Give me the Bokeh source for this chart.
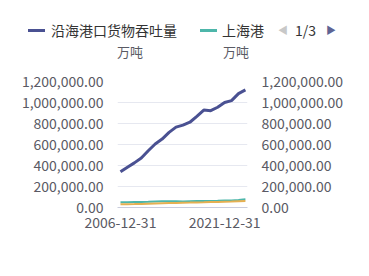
from bokeh.plotting import figure
from bokeh.layouts import column
from bokeh.models import LinearAxis, Range1d, NumeralTickFormatter, FixedTicker, Div
from bokeh.embed import file_html
from bokeh.resources import INLINE

dates = ["2006-12-31", "2007-12-31", "2008-12-31", "2009-12-31", "2010-12-31",
         "2011-12-31", "2012-12-31", "2013-12-31", "2014-12-31", "2015-12-31",
         "2016-12-31", "2017-12-31", "2018-12-31", "2019-12-31", "2020-12-31",
         "2021-12-31", "2022-12-31", "2023-12-31", "2024-12-31"]
coastal = [340000, 384000, 425000, 471000, 540000, 605000, 652000, 715000, 765000,
           784000, 812000, 868000, 928000, 922000, 955000, 1000000, 1018000, 1084000, 1120000]
shanghai = [49000, 50500, 51500, 52000, 54000, 57000, 58500, 60000, 59000,
            58000, 59500, 61000, 62000, 62500, 63500, 66000, 66500, 72000, 78000]
third = [30000, 31500, 32500, 34000, 36500, 39000, 40500, 42000, 43500,
         45000, 46500, 48500, 50000, 52000, 53500, 55500, 57000, 60000, 63000]
tick_labels = ["2006-12-31", "2021-12-31"]
series_names = ["沿海港口货物吞吐量", "上海港"]
series_colors = ["#4A5192", "#4DB6AA", "#E5B052"]
unit = "万吨"
page_text = "1/3"

x = [int(d[:4]) for d in dates]
tick_x = [int(t[:4]) for t in tick_labels]

FONT = "Noto Sans CJK SC"
W, H = 369, 276
TOP_H = 62
FL, FR, FT, FB = 117, 247, 81, 207
LABEL_COLOR = "#5A5A64"

# ---------- header (legend + axis names) ----------
def abs_span(left, top, inner, style=""):
    return (f'<span style="position:absolute;left:{left}px;top:{top}px;'
            f'white-space:nowrap;{style}">{inner}</span>')


parts = []
parts.append(abs_span(28, 29, "", f"width:17px;height:2.5px;background:{series_colors[0]};"))
parts.append(abs_span(200, 29, "", f"width:17px;height:2.5px;background:{series_colors[1]};"))
txt_style = "font-size:14px;line-height:20px;color:#333333;"
parts.append(abs_span(51, 20, series_names[0], txt_style))
parts.append(abs_span(222, 20, series_names[1], txt_style))
parts.append(abs_span(278, 21, "◀", "font-size:10px;line-height:18px;color:#C8C8C8;"))
parts.append(abs_span(295, 20, page_text, txt_style))
parts.append(abs_span(326, 21, "▶", "font-size:10px;line-height:18px;color:#5E6494;"))
unit_style = f"font-size:13px;line-height:18px;color:{LABEL_COLOR};"
parts.append(abs_span(117, 43, unit, unit_style))
parts.append(abs_span(223, 43, unit, unit_style))

html = (f'<div style="position:relative;width:{W}px;height:{TOP_H}px;'
        f'font-family:\'{FONT}\';margin:0;padding:0;">' + "".join(parts) + "</div>")
hdr = Div(text=html, width=W, height=TOP_H, margin=(0, 0, 0, 0))

# ---------- main chart ----------
p = figure(width=W, height=H - TOP_H, output_backend="svg", toolbar_location=None,
           x_range=Range1d(2005.57, 2024.3), y_range=Range1d(0, 1200000),
           min_border_left=FL, min_border_right=W - FR, min_border_top=FT - TOP_H,
           min_border_bottom=H - FB, outline_line_color=None,
           background_fill_color="white", border_fill_color="white",
           margin=(0, 0, 0, 0))

p.extra_y_ranges = {"r": Range1d(0, 1200000)}

p.line(x, shanghai, line_color=series_colors[1], line_width=2)
p.line(x, third, line_color=series_colors[2], line_width=2)
p.line(x, coastal, line_color=series_colors[0], line_width=3)

yt = [0, 200000, 400000, 600000, 800000, 1000000, 1200000]
p.xgrid.visible = False
p.ygrid.grid_line_color = "#E6E8F0"
p.ygrid.ticker = FixedTicker(ticks=yt)

for ax in p.yaxis:
    ax.ticker = FixedTicker(ticks=yt)
    ax.formatter = NumeralTickFormatter(format="0,0.00")
    ax.axis_line_color = None
    ax.major_tick_line_color = None
    ax.minor_tick_line_color = None
    ax.major_label_standoff = 8
    ax.major_label_text_font = FONT
    ax.major_label_text_font_size = "14px"
    ax.major_label_text_color = LABEL_COLOR

rax = LinearAxis(y_range_name="r", ticker=FixedTicker(ticks=yt),
                 formatter=NumeralTickFormatter(format="0,0.00"),
                 axis_line_color=None, major_tick_line_color=None, minor_tick_line_color=None,
                 major_label_standoff=8, major_label_text_font=FONT,
                 major_label_text_font_size="14px", major_label_text_color=LABEL_COLOR)
p.add_layout(rax, "right")

xa = p.xaxis[0]
xa.ticker = FixedTicker(ticks=tick_x)
xa.major_label_overrides = {tx: tl for tx, tl in zip(tick_x, tick_labels)}
xa.axis_line_color = "#C9CCDC"
xa.major_tick_line_color = None
xa.minor_tick_line_color = None
xa.major_label_standoff = 3
xa.major_label_text_font = FONT
xa.major_label_text_font_size = "14px"
xa.major_label_text_color = LABEL_COLOR

layout = column(hdr, p, spacing=0)
open("out.html", "w").write(file_html(layout, INLINE))
